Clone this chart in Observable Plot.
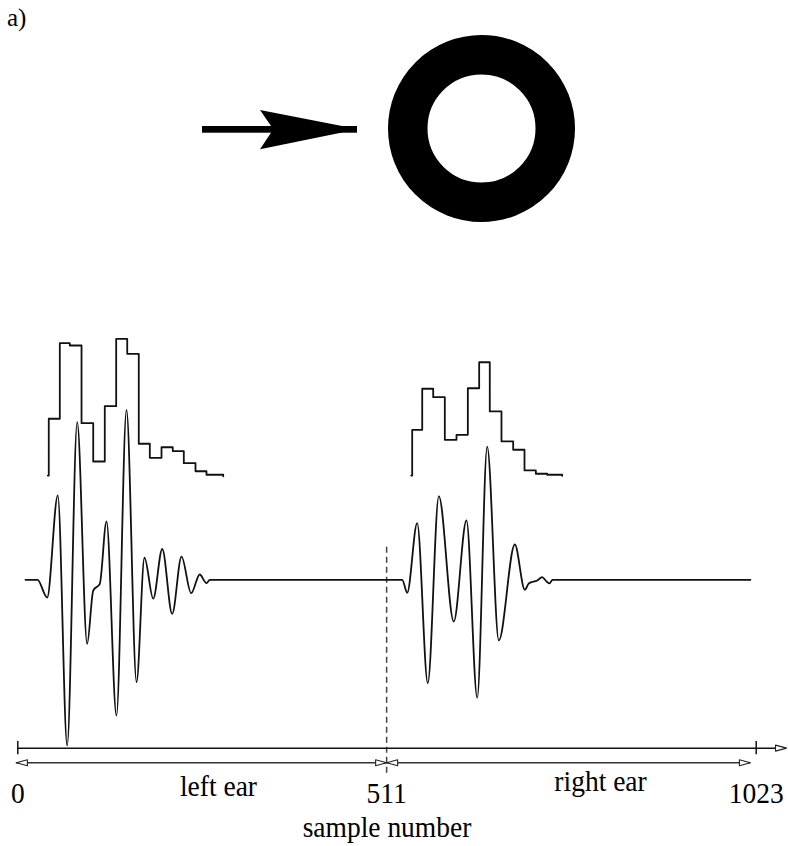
<!DOCTYPE html>
<html>
<head>
<meta charset="utf-8">
<script src="https://cdn.jsdelivr.net/npm/d3@7"></script>
<script src="https://cdn.jsdelivr.net/npm/@observablehq/plot@0.6"></script>
<style>
  html, body { margin: 0; padding: 0; background: #fff; }
  #fig { width: 788px; }
  svg { display: block; }
</style>
</head>
<body>
<div id="fig"></div>
<script>
// ---------- data ----------
const panelLabel = "a)";

// binaural waveform: sample index and amplitude (relative units)
const waveSample = [10.7, 27.3, 40.7, 55.4, 68.4, 82.3, 96.1, 104.5, 113.6, 122.9, 136.7, 150.6, 164.5, 175.5, 187.6, 200.1, 213.9, 226.8, 240.2, 252.1, 261.4, 266,
                    532.6, 539.5, 553.3, 568.0, 583.3, 604.0, 621.6, 636.5, 650.3, 666.4, 688.6, 702.4, 707.9, 719.6, 726.5, 732.5, 736.6, 740.8, 1015];
const waveValue  = [0, 0, -0.107, 0.51, -1.0, 0.951, -0.386, -0.065, -0.024, 0.352, -0.819, 1.026, -0.618, 0.133, -0.114, 0.186, -0.206, 0.14, -0.081, 0.032, -0.020, 0,
                    0, -0.078, 0.342, -0.624, 0.505, -0.252, 0.358, -0.712, 0.804, -0.366, 0.213, -0.060, -0.022, -0.004, 0.016, -0.010, -0.022, 0, 0];

// block envelopes (step functions) above each ear's waveform
const envLeftSample  = [41.6, 42.9, 58.2, 72.0, 88.3, 104.5, 120.5, 136.3, 151.6, 167.6, 182.9, 199.1, 214.7, 230.0, 246.2, 261.4, 284.6];
const envLeftLevel   = [0.629, 0.972, 1.428, 1.414, 0.945, 0.714, 1.048, 1.454, 1.364, 0.821, 0.736, 0.800, 0.776, 0.704, 0.655, 0.634, 0.625];
const envRightSample = [545.0, 546.4, 560.3, 575.5, 591.6, 607.8, 623.5, 639.2, 653.9, 670.1, 686.3, 702.0, 717.7, 733.4, 754.2];
const envRightLevel  = [0.629, 0.905, 1.153, 1.102, 0.845, 0.875, 1.156, 1.313, 1.016, 0.836, 0.785, 0.660, 0.640, 0.634, 0.628];

// axis
const axisTicks = [0, 511, 1023];
const axisTitle = "sample number";
const axisEnd = 1065;
const dividerSample = 511;
const earNames = ["left ear", "right ear"];
const earSpans = [[-2, 511], [511, 1015]];

// ---------- layout constants (in the chart's own y units) ----------
const axisLevel = -1.016;
const spanLevel = -1.104;
const dividerTop = 0.197, dividerBottom = -1.169;
const tickLabelLevel = -1.346;
const earLabelLevels = [-1.306, -1.272];
const titleLevel = -1.553;
const FONT = "'Liberation Serif', 'Times New Roman', serif";

// ---------- top illustration (source arrow and ring) ----------
const topSvg = d3.select("#fig").append("svg")
  .attr("width", 788).attr("height", 300)
  .style("background", "#fff");
topSvg.append("text").text(panelLabel)
  .attr("x", 7).attr("y", 26)
  .attr("font-family", FONT).attr("font-size", 25).attr("fill", "#000");
topSvg.append("rect").attr("x", 202).attr("y", 126).attr("width", 155).attr("height", 6.7).attr("fill", "#000");
topSvg.append("path").attr("d", "M260,110 L342,126 L342,132.6 L260,149.3 L273.3,129.3 Z").attr("fill", "#000");
topSvg.append("circle").attr("cx", 481.5).attr("cy", 128.5).attr("r", 73.75)
  .attr("fill", "none").attr("stroke", "#000").attr("stroke-width", 39.5);

// ---------- chart ----------
const wave = waveSample.map((s, i) => ({s, v: waveValue[i]}));
const envL = envLeftSample.map((s, i) => ({s, v: envLeftLevel[i]}));
const envR = envRightSample.map((s, i) => ({s, v: envRightLevel[i]}));

const heads = [
  {s: earSpans[0][0], v: spanLevel, rot: -90},
  {s: earSpans[0][1], v: spanLevel, rot: 90},
  {s: earSpans[1][0], v: spanLevel, rot: -90},
  {s: earSpans[1][1], v: spanLevel, rot: 90},
  {s: axisEnd, v: axisLevel, rot: 90}
];
const headShape = {
  draw(ctx, l, r) {
    ctx.moveTo(0, -l);
    ctx.lineTo(r, 0);
    ctx.lineTo(-r, 0);
    ctx.closePath();
  }
};

const textStyle = {fontFamily: FONT, fontSize: 27.5, fill: "#000", lineAnchor: "bottom", textAnchor: "middle"};

const chart = Plot.plot({
  width: 788,
  height: 546,
  margin: 0,
  x: {domain: [0, 1023], range: [17.3, 755.7], axis: null},
  y: {domain: [-1, 1], range: [445, 113.6], axis: null},
  style: {background: "white", overflow: "visible"},
  marks: [
    Plot.ruleX([dividerSample], {y1: dividerTop, y2: dividerBottom, stroke: "#444", strokeWidth: 1.5, strokeDasharray: "6,4"}),
    Plot.line(envL, {x: "s", y: "v", curve: "step-after", stroke: "#111", strokeWidth: 1.8}),
    Plot.line(envR, {x: "s", y: "v", curve: "step-after", stroke: "#111", strokeWidth: 1.8}),
    Plot.line(wave, {x: "s", y: "v", curve: "monotone-x", stroke: "#111", strokeWidth: 1.8}),
    Plot.ruleY([axisLevel], {x1: 0, x2: axisEnd, stroke: "#111", strokeWidth: 1.5}),
    Plot.ruleX([axisTicks[0], axisTicks[2]], {y1: axisLevel - 0.04, y2: axisLevel + 0.04, stroke: "#111", strokeWidth: 1.5}),
    Plot.ruleY(earSpans, {y: () => spanLevel, x1: d => d[0], x2: d => d[1], stroke: "#333", strokeWidth: 1.3}),
    Plot.vector(heads, {x: "s", y: "v", rotate: "rot", length: 11, r: 3, anchor: "end", shape: headShape, fill: "white", stroke: "#222", strokeWidth: 1.1}),
    Plot.text(axisTicks, {x: d => d, y: () => tickLabelLevel, text: d => String(d), ...textStyle}),
    Plot.text([earNames[0]], {x: () => (earSpans[0][0] + earSpans[0][1]) / 2, y: () => earLabelLevels[0], text: d => d, dx: 17, ...textStyle}),
    Plot.text([earNames[1]], {x: () => (earSpans[1][0] + earSpans[1][1]) / 2, y: () => earLabelLevels[1], text: d => d, dx: 32, ...textStyle}),
    Plot.text([axisTitle], {x: () => (axisTicks[0] + axisTicks[2]) / 2, y: () => titleLevel, text: d => d, ...textStyle})
  ]
});
// scanned original has slightly tall lettering
chart.querySelectorAll("text").forEach(t => {
  t.setAttribute("transform", (t.getAttribute("transform") || "") + " scale(1,1.1)");
});
document.getElementById("fig").appendChild(chart);
</script>
</body>
</html>
